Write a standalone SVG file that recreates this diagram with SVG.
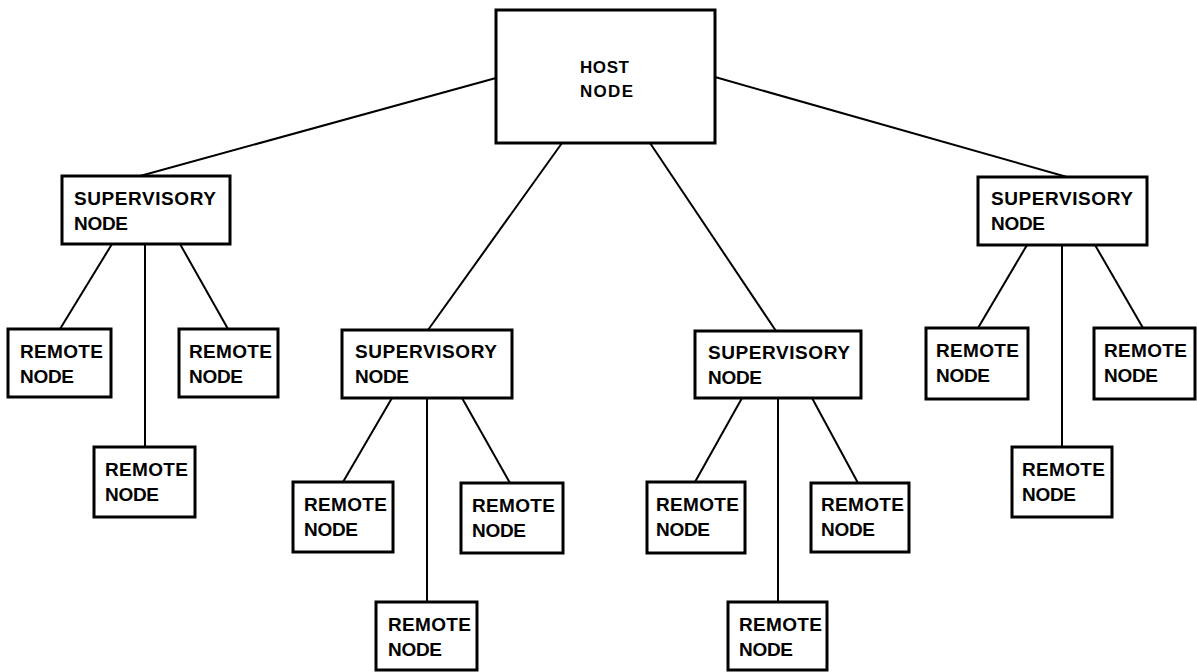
<svg xmlns="http://www.w3.org/2000/svg" width="1197" height="672" viewBox="0 0 1197 672">
  <style>
    .box { fill: #fff; stroke: #000; stroke-width: 3; }
    .lnk { stroke: #000; stroke-width: 2; fill: none; }
    text { font-family: "Liberation Sans", Arial, sans-serif; font-weight: bold; font-size: 19px; fill: #000; }
    .hostlbl { font-size: 17px; }
  </style>
  <rect width="1197" height="672" fill="#fff"/>

  <g id="connectors" class="lnk">
    <!-- host to supervisory nodes -->
    <line x1="496" y1="78" x2="140" y2="176"/>
    <line x1="715" y1="77" x2="1067" y2="177"/>
    <line x1="562" y1="143" x2="428" y2="330"/>
    <line x1="650" y1="143" x2="776" y2="331"/>
    <!-- left supervisory -->
    <line x1="112" y1="244" x2="60" y2="329"/>
    <line x1="145" y1="244" x2="145" y2="447"/>
    <line x1="180" y1="244" x2="228" y2="329"/>
    <!-- middle-left supervisory -->
    <line x1="392" y1="398" x2="343" y2="482"/>
    <line x1="427" y1="398" x2="427" y2="602"/>
    <line x1="462" y1="398" x2="510" y2="483"/>
    <!-- middle-right supervisory -->
    <line x1="742" y1="398" x2="695" y2="482"/>
    <line x1="778" y1="398" x2="778" y2="602"/>
    <line x1="812" y1="398" x2="858" y2="483"/>
    <!-- right supervisory -->
    <line x1="1027" y1="245" x2="978" y2="328"/>
    <line x1="1062" y1="245" x2="1062" y2="447"/>
    <line x1="1095" y1="245" x2="1143" y2="328"/>
  </g>

  <g id="host">
    <rect class="box" x="496" y="10" width="219" height="133"/>
    <text class="hostlbl" x="580" y="73" textLength="49" lengthAdjust="spacing">HOST</text>
    <text class="hostlbl" x="580" y="97" textLength="53" lengthAdjust="spacing">NODE</text>
  </g>

  <g id="sup1">
    <rect class="box" x="62" y="176" width="168" height="68"/>
    <text x="74" y="205" textLength="142" lengthAdjust="spacing">SUPERVISORY</text>
    <text x="74" y="230" textLength="54" lengthAdjust="spacing">NODE</text>
  </g>
  <g id="sup2">
    <rect class="box" x="342" y="330" width="170" height="68"/>
    <text x="355" y="358" textLength="142" lengthAdjust="spacing">SUPERVISORY</text>
    <text x="355" y="383" textLength="54" lengthAdjust="spacing">NODE</text>
  </g>
  <g id="sup3">
    <rect class="box" x="695" y="331" width="166" height="67"/>
    <text x="708" y="359" textLength="142" lengthAdjust="spacing">SUPERVISORY</text>
    <text x="708" y="384" textLength="54" lengthAdjust="spacing">NODE</text>
  </g>
  <g id="sup4">
    <rect class="box" x="978" y="177" width="169" height="68"/>
    <text x="991" y="205" textLength="142" lengthAdjust="spacing">SUPERVISORY</text>
    <text x="991" y="230" textLength="54" lengthAdjust="spacing">NODE</text>
  </g>

  <g id="rem1a">
    <rect class="box" x="8" y="329" width="103" height="68"/>
    <text x="20" y="358" textLength="83" lengthAdjust="spacing">REMOTE</text>
    <text x="20" y="383" textLength="54" lengthAdjust="spacing">NODE</text>
  </g>
  <g id="rem1b">
    <rect class="box" x="94" y="447" width="101" height="70"/>
    <text x="105" y="476" textLength="83" lengthAdjust="spacing">REMOTE</text>
    <text x="105" y="501" textLength="54" lengthAdjust="spacing">NODE</text>
  </g>
  <g id="rem1c">
    <rect class="box" x="179" y="329" width="99" height="68"/>
    <text x="189" y="358" textLength="83" lengthAdjust="spacing">REMOTE</text>
    <text x="189" y="383" textLength="54" lengthAdjust="spacing">NODE</text>
  </g>

  <g id="rem2a">
    <rect class="box" x="293" y="482" width="100" height="70"/>
    <text x="304" y="511" textLength="83" lengthAdjust="spacing">REMOTE</text>
    <text x="304" y="536" textLength="54" lengthAdjust="spacing">NODE</text>
  </g>
  <g id="rem2b">
    <rect class="box" x="376" y="602" width="101" height="68"/>
    <text x="388" y="631" textLength="83" lengthAdjust="spacing">REMOTE</text>
    <text x="388" y="656" textLength="54" lengthAdjust="spacing">NODE</text>
  </g>
  <g id="rem2c">
    <rect class="box" x="461" y="483" width="102" height="70"/>
    <text x="472" y="512" textLength="83" lengthAdjust="spacing">REMOTE</text>
    <text x="472" y="537" textLength="54" lengthAdjust="spacing">NODE</text>
  </g>

  <g id="rem3a">
    <rect class="box" x="647" y="482" width="98" height="71"/>
    <text x="656" y="511" textLength="83" lengthAdjust="spacing">REMOTE</text>
    <text x="656" y="536" textLength="54" lengthAdjust="spacing">NODE</text>
  </g>
  <g id="rem3b">
    <rect class="box" x="728" y="602" width="99" height="68"/>
    <text x="739" y="631" textLength="83" lengthAdjust="spacing">REMOTE</text>
    <text x="739" y="656" textLength="54" lengthAdjust="spacing">NODE</text>
  </g>
  <g id="rem3c">
    <rect class="box" x="811" y="483" width="98" height="69"/>
    <text x="821" y="511" textLength="83" lengthAdjust="spacing">REMOTE</text>
    <text x="821" y="536" textLength="54" lengthAdjust="spacing">NODE</text>
  </g>

  <g id="rem4a">
    <rect class="box" x="926" y="328" width="102" height="71"/>
    <text x="936" y="357" textLength="83" lengthAdjust="spacing">REMOTE</text>
    <text x="936" y="382" textLength="54" lengthAdjust="spacing">NODE</text>
  </g>
  <g id="rem4b">
    <rect class="box" x="1012" y="447" width="100" height="70"/>
    <text x="1022" y="476" textLength="83" lengthAdjust="spacing">REMOTE</text>
    <text x="1022" y="501" textLength="54" lengthAdjust="spacing">NODE</text>
  </g>
  <g id="rem4c">
    <rect class="box" x="1094" y="328" width="101" height="71"/>
    <text x="1104" y="357" textLength="83" lengthAdjust="spacing">REMOTE</text>
    <text x="1104" y="382" textLength="54" lengthAdjust="spacing">NODE</text>
  </g>
</svg>
